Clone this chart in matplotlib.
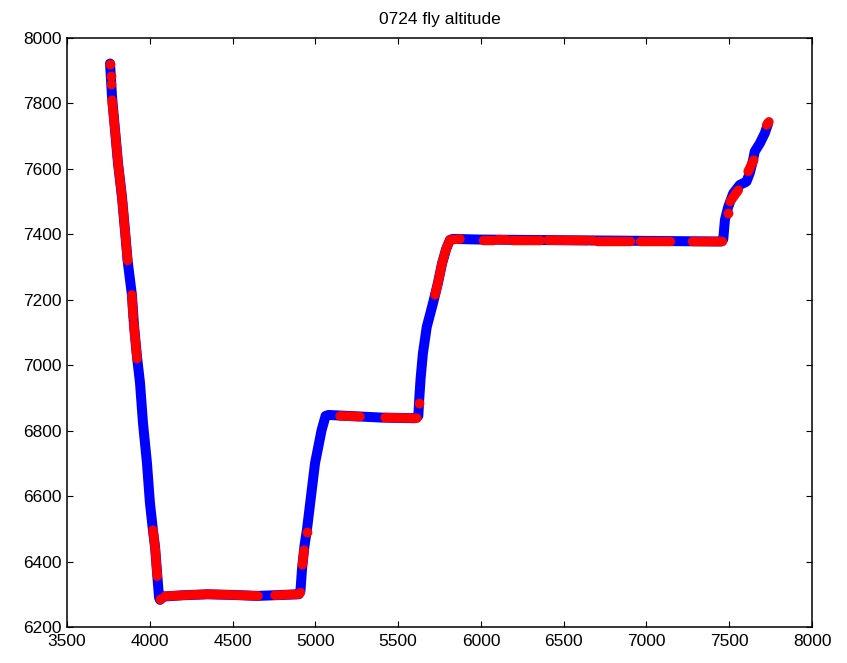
import matplotlib
matplotlib.use("Agg")
import matplotlib.pyplot as plt

# ---- data ----
title = "0724 fly altitude"

# blue track (x, altitude)
track_x = [3760, 3772, 3790, 3808, 3832, 3850, 3866, 3892, 3905, 3923, 3941, 3959,
           3983, 4001, 4019, 4032, 4045, 4056, 4062,
           4080, 4200, 4350, 4500, 4650, 4800, 4900, 4910,
           4920, 4935, 4950, 4998, 5038, 5062, 5080,
           5200, 5400, 5600, 5622,
           5628, 5636, 5650, 5673, 5711, 5740, 5765, 5790, 5813, 5830,
           6000, 6500, 7000, 7450, 7464,
           7474, 7494, 7524, 7564, 7604, 7624, 7644, 7654, 7685, 7715, 7735]
track_y = [7922, 7820, 7719, 7618, 7514, 7413, 7320, 7215, 7120, 7025, 6946, 6823,
           6701, 6579, 6496, 6444, 6360, 6290, 6283,
           6293, 6297, 6300, 6298, 6295, 6298, 6300, 6310,
           6380, 6450, 6500, 6700, 6802, 6845, 6848,
           6845, 6840, 6838, 6845,
           6900, 6960, 7037, 7117, 7190, 7250, 7310, 7355, 7383, 7386,
           7384, 7382, 7380, 7378, 7385,
           7444, 7484, 7525, 7551, 7561, 7587, 7627, 7653, 7678, 7709, 7739]

# red segments (x list, y list)
red_seg_x = [
    [3772, 3790, 3808, 3832, 3850, 3866],
    [3892, 3900],
    [3903, 3923],
    [4019, 4032, 4045],
    [4092, 4200, 4350, 4500, 4654],
    [4756, 4800, 4900, 4910],
    [4922, 4932],
    [5149, 5270],
    [5421, 5614],
    [5723, 5740, 5765, 5790, 5813, 5874],
    [6013, 6073],
    [6103, 6158],
    [6188, 6357],
    [6405, 6641],
    [6701, 6900],
    [6961, 7142],
    [7275, 7456],
    [7505, 7555],
    [7614, 7648],
    [7726, 7740],
]
red_seg_y = [
    [7810, 7719, 7618, 7514, 7413, 7320],
    [7215, 7147],
    [7129, 7020],
    [6496, 6444, 6355],
    [6294, 6297, 6300, 6298, 6295],
    [6297, 6298, 6300, 6305],
    [6390, 6435],
    [6845, 6843],
    [6840, 6838],
    [7215, 7250, 7310, 7355, 7383, 7386],
    [7384, 7384],
    [7384, 7383],
    [7383, 7383],
    [7382, 7381],
    [7380, 7380],
    [7380, 7380],
    [7379, 7379],
    [7500, 7535],
    [7592, 7627],
    [7734, 7744],
]
# single red dots
red_dot_x = [3760, 3764, 3766, 4062, 4951, 5626, 6671, 7494]
red_dot_y = [7922, 7885, 7860, 6285, 6491, 6884, 7382, 7464]

# ---- figure ----
plt.rcParams['font.family'] = ['Liberation Sans', 'DejaVu Sans']
fig = plt.figure(figsize=(8.47, 6.63), dpi=100)
ax = fig.add_axes([67/847, 1-627/663, (812-67)/847, (627-38)/663])

ax.plot(track_x, track_y, color=(0, 0, 1), lw=7.2, solid_capstyle='round',
        solid_joinstyle='round')
for sx, sy in zip(red_seg_x, red_seg_y):
    ax.plot(sx, sy, color=(1, 0, 0), lw=6.8, solid_capstyle='round',
            solid_joinstyle='round')
ax.plot(red_dot_x, red_dot_y, 'o', color=(1, 0, 0), ms=7.0, mec='none')

ax.set_xlim(3500, 8000)
ax.set_ylim(6200, 8000)
ax.set_xticks(range(3500, 8001, 500))
ax.set_yticks(range(6200, 8001, 200))
ax.tick_params(direction='in', length=4, width=0.8, top=True, right=True,
               labelsize=12.5, colors='black')
ax.tick_params(axis='x', pad=5)
ax.tick_params(axis='y', pad=4)
for s in ax.spines.values():
    s.set_linewidth(1.1)
ax.set_title(title, fontsize=12.5, pad=10)

fig.savefig("out.png", dpi=100)
